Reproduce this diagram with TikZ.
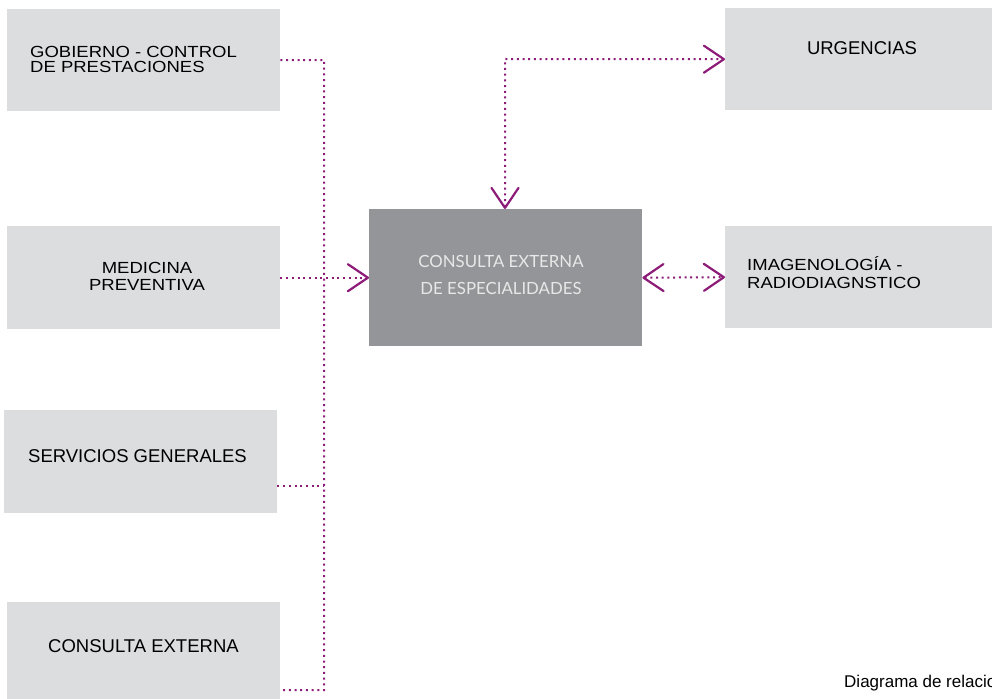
\documentclass[tikz,border=0pt]{standalone}
\usepackage{fontspec}
\setmainfont{Liberation Sans}
\newfontfamily\latofont{Lato}
\usetikzlibrary{arrows.meta}
\definecolor{purp}{RGB}{140,28,120}
\definecolor{boxlight}{RGB}{220,221,223}
\definecolor{boxdark}{RGB}{147,149,152}
\definecolor{txtlight}{RGB}{232,232,232}
\newcommand{\sq}[1]{\scalebox{1}[0.87]{#1}}
\tikzset{
  lbox/.style={fill=boxlight, draw=none, inner sep=0pt, anchor=north west},
  dbox/.style={fill=boxdark, draw=none, inner sep=0pt, anchor=north west},
  btxt/.style={inner sep=0pt, font=\fontsize{18.5}{14}\selectfont, text=black},
  ctxt/.style={inner sep=0pt, font=\latofont\fontsize{16.8}{14}\selectfont, text=txtlight, anchor=base},
  dotln/.style={draw=purp, line width=2pt, dash pattern=on 2pt off 3.7pt},
  vtip/.tip={Straight Barb[length=20pt,width=27pt,line width=2.2pt,round]}
}
\begin{document}
\begin{tikzpicture}[x=1pt,y=-1pt]
\useasboundingbox (0,0) rectangle (992,698);
\clip (0,0) rectangle (992,698);
% boxes
\node[lbox, minimum width=273pt, minimum height=102pt] (gob) at (7,9) {};
\node[lbox, minimum width=273pt, minimum height=103pt] (med) at (7,226) {};
\node[lbox, minimum width=273pt, minimum height=103pt] (serv) at (4,410) {};
\node[lbox, minimum width=273pt, minimum height=102pt] (cons) at (7,602) {};
\node[lbox, minimum width=270pt, minimum height=102pt] (urg) at (725,8) {};
\node[lbox, minimum width=270pt, minimum height=102pt] (img) at (725,226) {};
\node[dbox, minimum width=273pt, minimum height=137pt] (cen) at (369,209) {};
% texts
\node[btxt, anchor=base west] (tgob1) at (30,57.5) {\sq{GOBIERNO - CONTROL}};
\node[btxt, anchor=base west] (tgob2) at (30,72.5) {\sq{DE PRESTACIONES}};
\node[btxt, anchor=base] (tmed1) at (147,273.5) {\sq{MEDICINA}};
\node[btxt, anchor=base] (tmed2) at (147,290) {\sq{PREVENTIVA}};
\node[btxt, anchor=base west] (tserv) at (28,462.5) {SERVICIOS GENERALES};
\node[btxt, anchor=base west] (tcons) at (48,652.5) {CONSULTA EXTERNA};
\node[btxt, anchor=base] (turg) at (862,54.5) {URGENCIAS};
\node[btxt, anchor=base west] (timg1) at (747,270.5) {\sq{IMAGENOLOGÍA -}};
\node[btxt, anchor=base west] (timg2) at (747,288) {\sq{RADIODIAGNSTICO}};
\node[ctxt] (tcen1) at (501,267) {CONSULTA EXTERNA};
\node[ctxt] (tcen2) at (501,294) {DE ESPECIALIDADES};
\node[inner sep=0pt, anchor=base west, font=\fontsize{17}{18}\selectfont] (foot) at (844,687) {Diagrama de relaciones};
% connector points
\coordinate (trTop) at (324,60);
\coordinate (trServ) at (324,486);
\coordinate (trBot) at (324,690);
\coordinate (tu) at (505,59);
% connectors
\draw[dotln] (gob.east) -- (trTop) -- (trBot) -- (cons.east |- trBot);
\draw[dotln] (serv.east |- trServ) -- (trServ);
\draw[dotln, -{vtip}] (med.east) -- (cen.west);
\draw[dotln, {vtip}-{vtip}] (cen.north -| tu) -- (tu) -- (urg.west);
\draw[dotln, {vtip}-{vtip}] (cen.east) -- (img.west);
\end{tikzpicture}
\end{document}
